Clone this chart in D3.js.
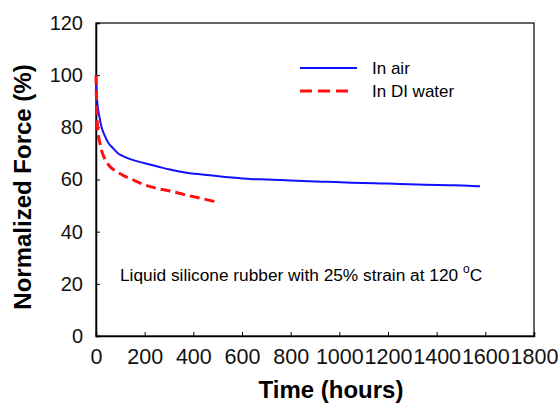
<!DOCTYPE html>
<html><head><meta charset="utf-8">
<script src="https://cdn.jsdelivr.net/npm/d3@7"></script>
<style>body{margin:0;background:#fff}svg{display:block}text{font-family:"Liberation Sans",Arial,sans-serif}</style>
</head><body><svg id="c" width="558" height="405"></svg>
<script>
const airTime = [0, 2, 6, 14, 23, 35, 51, 70, 91, 120, 147, 201, 260, 304, 360, 427, 468, 530, 592, 633, 700, 756, 850, 950, 1050, 1167, 1249, 1350, 1450, 1530, 1578];
const airForce = [100, 94, 89, 84, 80, 77, 74, 72, 70, 68.6, 67.6, 66.2, 64.8, 63.8, 62.8, 62.0, 61.6, 61.0, 60.5, 60.2, 60.0, 59.8, 59.4, 59.1, 58.8, 58.5, 58.3, 58.0, 57.8, 57.6, 57.4];
const waterTime = [0, 2, 5, 10, 16, 25, 37, 55, 78, 100, 119, 140, 170, 201, 250, 304, 360, 420, 468, 498];
const waterForce = [100, 90, 82, 77, 74, 70.5, 67.8, 65.2, 63.4, 62.2, 61.2, 60.4, 59.1, 57.9, 56.6, 55.6, 54.3, 53.0, 52.0, 51.2];
const xTicks = [0, 200, 400, 600, 800, 1000, 1200, 1400, 1600, 1800];
const yTicks = [0, 20, 40, 60, 80, 100, 120];
const seriesNames = ["In air", "In DI water"];

const svg = d3.select("#c");
const L = 96, R = 534, T = 23, B = 336;
const x = d3.scaleLinear().domain([0, 1800]).range([L, R]);
const y = d3.scaleLinear().domain([0, 120]).range([B, T]);

// frame
svg.append("rect").attr("x", L).attr("y", T).attr("width", R - L).attr("height", B - T)
  .attr("fill", "none").attr("stroke", "#000").attr("stroke-width", 1.2);

const xa = svg.append("g").attr("transform", `translate(0,${B})`)
  .call(d3.axisBottom(x).tickValues(xTicks).tickSize(-4).tickPadding(13).tickFormat(d3.format("d")));
const ya = svg.append("g").attr("transform", `translate(${L},0)`)
  .call(d3.axisLeft(y).tickValues(yTicks).tickSize(-4).tickPadding(13).tickFormat(d3.format("d")));
[xa, ya].forEach(g => {
  g.select(".domain").attr("stroke", "#000").attr("stroke-width", 1.5);
  g.selectAll("line").attr("stroke", "#000");
  g.selectAll("text").attr("font-size", 20).attr("fill", "#111")
   .style("font-family", '"Liberation Sans",Arial,sans-serif');
});
xa.selectAll("text").attr("dy", "0.71em").attr("font-size", 21.5);

const line = d3.line().x(d => x(d[0])).y(d => y(d[1])).curve(d3.curveMonotoneX);
const air = airTime.map((t, i) => [t, airForce[i]]);
const water = waterTime.map((t, i) => [t, waterForce[i]]);
svg.append("path").datum(air).attr("d", line).attr("fill", "none")
  .attr("stroke", "#1010ff").attr("stroke-width", 2);
svg.append("path").datum(water).attr("d", line).attr("fill", "none")
  .attr("stroke", "#ff1010").attr("stroke-width", 3).attr("stroke-dasharray", "10,5");

// legend
const lg = svg.append("g");
lg.append("line").attr("x1", 300).attr("x2", 357).attr("y1", 68).attr("y2", 68)
  .attr("stroke", "#1010ff").attr("stroke-width", 2);
lg.append("line").attr("x1", 300).attr("x2", 354).attr("y1", 91).attr("y2", 91)
  .attr("stroke", "#ff1010").attr("stroke-width", 3).attr("stroke-dasharray", "12,6");
lg.append("text").attr("x", 372).attr("y", 74).attr("font-size", 17).text(seriesNames[0]);
lg.append("text").attr("x", 372).attr("y", 97).attr("font-size", 17).text(seriesNames[1]);

// annotation
const ann = svg.append("text").attr("x", 120).attr("y", 281).attr("font-size", 17.3);
ann.append("tspan").text("Liquid silicone rubber with 25% strain at 120 ");
ann.append("tspan").attr("font-size", 12).attr("dy", -8).text("o");
ann.append("tspan").attr("dy", 8).text("C");

// axis titles
svg.append("text").attr("x", 331).attr("y", 398).attr("text-anchor", "middle")
  .attr("font-size", 24).attr("font-weight", "bold").text("Time (hours)");
svg.append("text").attr("transform", "translate(31,187) rotate(-90)").attr("text-anchor", "middle")
  .attr("font-size", 24).attr("font-weight", "bold").text("Normalized Force (%)");
</script></body></html>
